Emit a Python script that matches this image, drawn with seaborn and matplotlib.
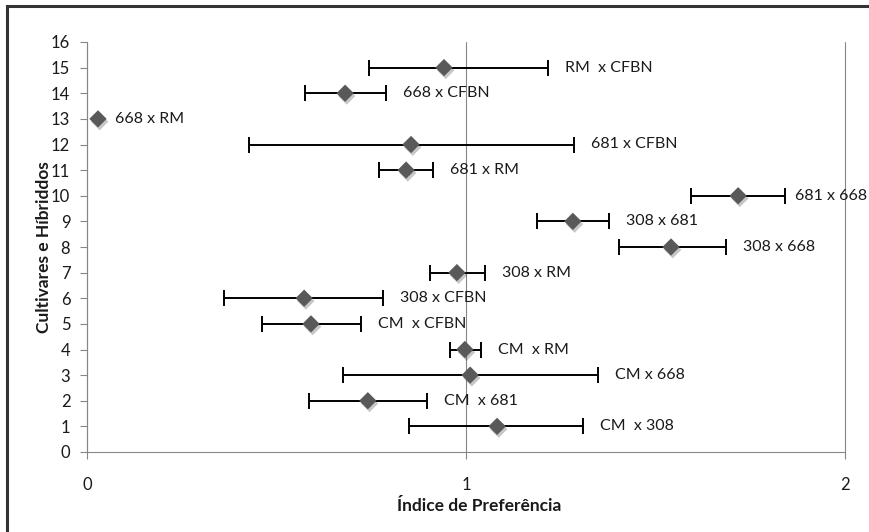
import matplotlib
matplotlib.use('Agg')

import numpy as np
import pandas as pd
import matplotlib.pyplot as plt
import matplotlib.patheffects as pe
from matplotlib.patches import Rectangle
import seaborn as sns

# --- Data ---
rows = [1, 2, 3, 4, 5, 6, 7, 8, 9, 10, 11, 12, 13, 14, 15]
crosses = ["CM  x 308", "CM  x 681", "CM x 668", "CM  x RM", "CM  x CFBN",
           "308 x CFBN", "308 x RM", "308 x 668", "308 x 681", "681 x 668",
           "681 x RM", "681 x CFBN", "668 x RM", "668 x CFBN", "RM  x CFBN"]
index_mean = [1.082, 0.741, 1.011, 0.997, 0.591, 0.573, 0.976, 1.541, 1.282,
              1.718, 0.842, 0.855, 0.029, 0.681, 0.942]
index_low = [0.850, 0.586, 0.675, 0.958, 0.462, 0.361, 0.905, 1.404, 1.187,
             1.594, 0.770, 0.427, np.nan, 0.575, 0.744]
index_high = [1.309, 0.897, 1.348, 1.040, 0.723, 0.781, 1.050, 1.686, 1.377,
              1.842, 0.913, 1.285, np.nan, 0.789, 1.216]

df = pd.DataFrame({"row": rows, "cross": crosses, "mean": index_mean,
                   "low": index_low, "high": index_high})

AXIS_GRAY = "#868686"
MARKER_GRAY = "#595959"
TEXT = "#1a1a1a"

sns.set_theme(style="white")
plt.rcParams['font.family'] = ['Lato', 'DejaVu Sans']

fig = plt.figure(figsize=(8.7, 5.32), dpi=100)
ax = fig.add_axes([87 / 870, 1 - 452 / 532, 758 / 870, 410 / 532])

# error bars (one row has none)
eb = df.dropna(subset=["low", "high"])
ax.errorbar(eb["mean"], eb["row"],
            xerr=[eb["mean"] - eb["low"], eb["high"] - eb["mean"]],
            fmt="none", ecolor="black", elinewidth=1.4,
            capsize=6, capthick=1.4, zorder=2)

# diamonds with a soft drop shadow like Excel
sns.scatterplot(data=df, x="mean", y="row", marker="D", s=78,
                color=MARKER_GRAY, edgecolor="none", linewidth=0,
                ax=ax, zorder=3, legend=False)
ax.collections[-1].set_path_effects([
    pe.SimplePatchShadow(offset=(1.2, -2.0), shadow_rgbFace="#000000", alpha=0.22),
    pe.Normal()])

ax.set_xlim(0, 2)
ax.set_ylim(0, 16)
ax.set_xticks([0, 1, 2])
ax.set_yticks(range(0, 17))

# data labels right of each bar
labels = []
for _, r in df.iterrows():
    right = np.nanmax([r["mean"], r["high"]])
    labels.append(ax.annotate(r["cross"], xy=(right, r["row"]), xytext=(12, 0),
                              textcoords="offset points", ha="left", va="center",
                              fontsize=11.5, color=TEXT, annotation_clip=False))

# pull in any label that would run off the right edge (Excel squeezes it in)
fig.canvas.draw()
renderer = fig.canvas.get_renderer()
limit = fig.bbox.width - 3
for t in labels:
    bb = t.get_window_extent(renderer)
    if bb.x1 > limit:
        dx_pt = (bb.x1 - limit) * 72 / fig.dpi
        x0, y0 = t.xyann
        t.xyann = (x0 - dx_pt, y0)

ax.grid(axis="x", color=AXIS_GRAY, linewidth=0.8)
ax.grid(axis="y", visible=False)
for g in ax.get_xgridlines():
    g.set_clip_on(False)

for side in ["top", "right"]:
    ax.spines[side].set_visible(False)
for side in ["left", "bottom"]:
    ax.spines[side].set_color(AXIS_GRAY)
    ax.spines[side].set_linewidth(0.8)

ax.tick_params(axis="y", direction="out", length=5, width=0.8, color=AXIS_GRAY,
               pad=7, labelsize=12, labelcolor=TEXT, left=True)
ax.tick_params(axis="x", direction="out", length=5, width=0.8, color=AXIS_GRAY,
               pad=13, labelsize=12, labelcolor=TEXT, bottom=True)

ax.set_xlabel("Índice de Preferência", fontsize=12.5, fontweight="bold", color=TEXT)
ax.set_ylabel("Cultivares e Híbriddos", fontsize=12.5, fontweight="bold", color=TEXT)
ax.xaxis.set_label_coords(0.518, -0.112)
ax.yaxis.set_label_coords(-0.046, 0.5)

# outer chart frame (runs past the right and bottom edges)
fig.add_artist(Rectangle((7.5 / 870, -0.1), 1.2, 1.1 - 5.5 / 532,
                         transform=fig.transFigure, fill=False,
                         edgecolor="#333333", linewidth=2.2, clip_on=False))

fig.savefig("out.png", dpi=100)
